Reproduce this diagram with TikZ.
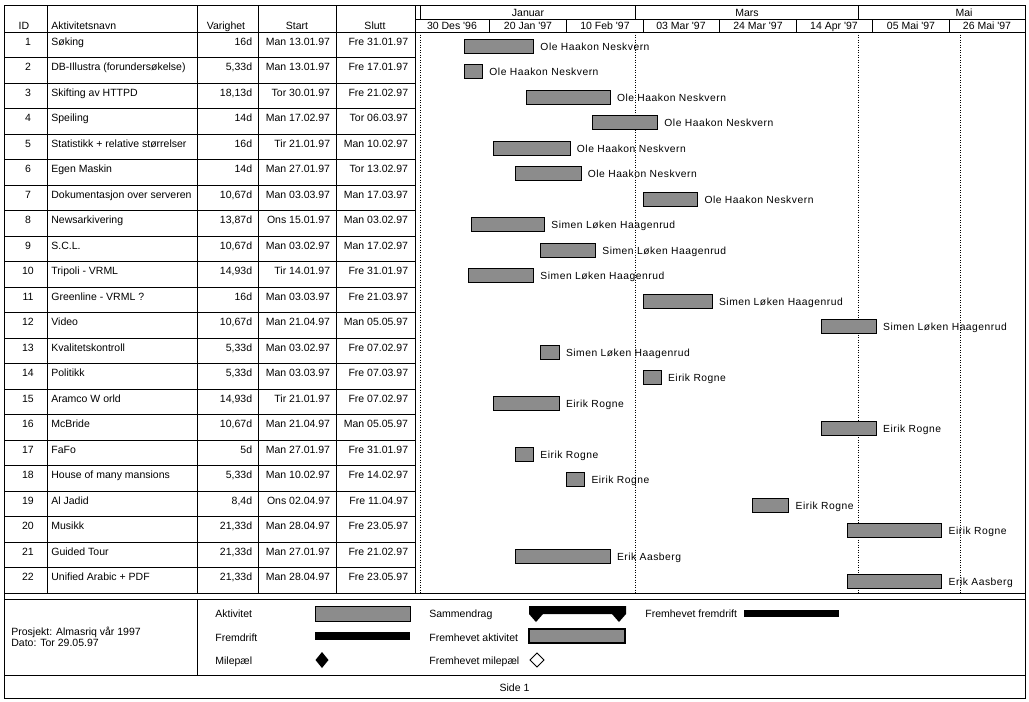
\documentclass[tikz,border=0pt]{standalone}
\usepackage{fontspec}
\setmainfont{Liberation Sans}[Ligatures=TeXOff]
\newfontfamily\widesans{Liberation Sans}[LetterSpace=5]
\begin{document}
\begin{tikzpicture}[x=1pt,y=-1pt,line width=.8pt,
	txt/.style={inner sep=0pt,anchor=base,font=\fontsize{10.5}{12}\selectfont},
	txtl/.style={txt,anchor=base west},
	txtr/.style={txt,anchor=base east},
	ress/.style={txtl,font=\widesans\fontsize{10.3}{12}\selectfont},
	bar/.style={draw,fill=black!45},
	gridline/.style={line width=.8pt,dash pattern=on 1pt off 1.5pt}]
	\useasboundingbox(0,0)rectangle(1029,702);
	\draw(4,5)rectangle(1025,698);
	\foreach \x in {47,197,258,336,415}\draw(\x,5)--(\x,593);
	\draw(415,19)--(1025,19);
	\draw(4,32)--(1025,32);
	\foreach \i in {1,...,21}\draw(4,{32+25.5*\i})--(415,{32+25.5*\i});
	\draw(4,593)--(1025,593);
	\draw(4,599)--(1025,599);
	\draw(4,675)--(1025,675);
	\draw(197,599)--(197,675);
	\foreach \d in {2,61,122}\draw({413.3+3.645*\d},5)--({413.3+3.645*\d},19);
	\foreach \k in {1,...,7}\draw({413.3+76.545*\k},19)--({413.3+76.545*\k},32);
	\foreach \d in {2,61,122,150}\draw[gridline]({413.3+3.645*\d},32)--({413.3+3.645*\d},593);
	\node[txt](hid) at (24,29){ID};
	\node[txtl](hnavn) at (51,29){Aktivitetsnavn};
	\node[txt](hvar) at (226,29){Varighet};
	\node[txt](hstart) at (297,29){Start};
	\node[txt](hslutt) at (375,29){Slutt};
	\foreach \x/\m [count=\j] in {528/Januar,747/Mars,964/Mai}\node[txt](mnd\j) at (\x,16){\m};
	\foreach \x/\u [count=\j] in {452/30 Des '96,528/20 Jan '97,605/10 Feb '97,681/03 Mar '97,758/24 Mar '97,834/14 Apr '97,911/05 Mai '97,987/26 Mai '97}
		\node[txt](uke\j) at (\x,29){\u};
	\foreach \i/\n/\v/\s/\e/\a/\b/\w in {
		1/S{\o}king/16d/Man 13.01.97/Fre 31.01.97/14/33/Ole Haakon Neskvern,
		2/DB-Illustra (forunders{\o}kelse)/{5,33d}/Man 13.01.97/Fre 17.01.97/14/19/Ole Haakon Neskvern,
		3/Skifting av HTTPD/{18,13d}/Tor 30.01.97/Fre 21.02.97/31/54/Ole Haakon Neskvern,
		4/Speiling/14d/Man 17.02.97/Tor 06.03.97/49/67/Ole Haakon Neskvern,
		5/Statistikk + relative st{\o}rrelser/16d/Tir 21.01.97/Man 10.02.97/22/43/Ole Haakon Neskvern,
		6/Egen Maskin/14d/Man 27.01.97/Tor 13.02.97/28/46/Ole Haakon Neskvern,
		7/Dokumentasjon over serveren/{10,67d}/Man 03.03.97/Man 17.03.97/63/78/Ole Haakon Neskvern,
		8/Newsarkivering/{13,87d}/Ons 15.01.97/Man 03.02.97/16/36/Simen L{\o}ken Haagenrud,
		9/S.C.L./{10,67d}/Man 03.02.97/Man 17.02.97/35/50/Simen L{\o}ken Haagenrud,
		10/Tripoli - VRML/{14,93d}/Tir 14.01.97/Fre 31.01.97/15/33/Simen L{\o}ken Haagenrud,
		11/Greenline - VRML ?/16d/Man 03.03.97/Fre 21.03.97/63/82/Simen L{\o}ken Haagenrud,
		12/Video/{10,67d}/Man 21.04.97/Man 05.05.97/112/127/Simen L{\o}ken Haagenrud,
		13/Kvalitetskontroll/{5,33d}/Man 03.02.97/Fre 07.02.97/35/40/Simen L{\o}ken Haagenrud,
		14/Politikk/{5,33d}/Man 03.03.97/Fre 07.03.97/63/68/Eirik Rogne,
		15/Aramco W orld/{14,93d}/Tir 21.01.97/Fre 07.02.97/22/40/Eirik Rogne,
		16/McBride/{10,67d}/Man 21.04.97/Man 05.05.97/112/127/Eirik Rogne,
		17/FaFo/5d/Man 27.01.97/Fre 31.01.97/28/33/Eirik Rogne,
		18/House of many mansions/{5,33d}/Man 10.02.97/Fre 14.02.97/42/47/Eirik Rogne,
		19/Al Jadid/{8,4d}/Ons 02.04.97/Fre 11.04.97/93/103/Eirik Rogne,
		20/Musikk/{21,33d}/Man 28.04.97/Fre 23.05.97/119/145/Eirik Rogne,
		21/Guided Tour/{21,33d}/Man 27.01.97/Fre 21.02.97/28/54/Erik Aasberg,
		22/Unified Arabic + PDF/{21,33d}/Man 28.04.97/Fre 23.05.97/119/145/Erik Aasberg}{
		\pgfmathsetmacro\t{32+25.5*(\i-1)}
		\node[txt](id\i) at (28,\t+13){\i};
		\node[txtl](navn\i) at (51,\t+13){\n};
		\node[txtr](var\i) at (252.5,\t+13){\v};
		\node[txtr](start\i) at (330.5,\t+13){\s};
		\node[txtr](slutt\i) at (408.5,\t+13){\e};
		\draw[bar]({413.3+3.645*\a},\t+7)rectangle({413.3+3.645*\b},\t+21);
		\node[ress](ress\i) at ({419.8+3.645*\b},\t+18){\w};
	}
	\node[txtl](prosjekt) at (11,635){Prosjekt: Almasriq vår 1997};
	\node[txtl](dato) at (11,646){Dato: Tor 29.05.97};
	\node[txtl](lakt) at (215,617){Aktivitet};
	\draw[bar](315,606)rectangle(410,621);
	\node[txtl](lfrem) at (215,641){Fremdrift};
	\fill(315,632)rectangle(410,640);
	\node[txtl](lmile) at (215,664){Milepæl};
	\fill(322,652)--(328.5,660)--(322,668)--(315.5,660)--cycle;
	\node[txtl](lsum) at (429,617){Sammendrag};
	\fill(529,606)--(626,606)--(626,614)--(619,622)--(612,614)--(543,614)--(536,622)--(529,614)--cycle;
	\node[txtl](lfakt) at (429,641){Fremhevet aktivitet};
	\draw[bar,line width=1.4pt](529,629)rectangle(625,643);
	\node[txtl](lfmile) at (429,664){Fremhevet milepæl};
	\draw(537,653)--(544,660)--(537,667)--(530,660)--cycle;
	\node[txtl](lffrem) at (645,617){Fremhevet fremdrift};
	\fill(744,610)rectangle(839,617);
	\node[txt](side) at (514.5,691){Side 1};
\end{tikzpicture}
\end{document}
